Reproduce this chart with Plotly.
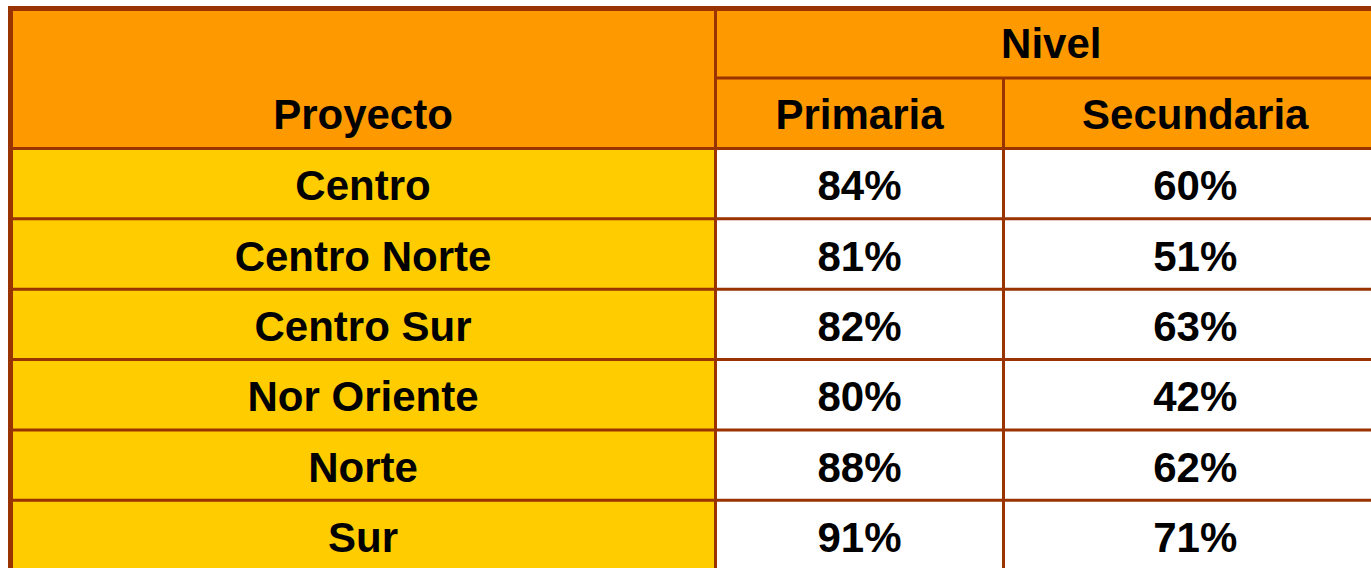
import numpy as np
import plotly.graph_objects as go

# ---- data ----
proyectos = ["Centro", "Centro Norte", "Centro Sur", "Nor Oriente", "Norte", "Sur"]
primaria = [84, 81, 82, 80, 88, 91]
secundaria = [60, 51, 63, 42, 62, 71]
header_group = "Nivel"
header_first = "Proyecto"
niveles = ["Primaria", "Secundaria"]

# ---- layout geometry (pixel units of the page) ----
W, H = 1371, 568
LEFT = 10.5
COL_W = [705, 288, 383.5]
TOP = 8.5
HEAD_H = [69.5, 70.5]
ROW_H = 70.35

ORANGE = "#FF9900"
YELLOW = "#FFCC00"
BORDER = "#993300"
FONT = "Liberation Sans"
FS = 42

x_edges = LEFT + np.concatenate([[0], np.cumsum(COL_W)])
head_edges = TOP + np.concatenate([[0], np.cumsum(HEAD_H)])
body_top = head_edges[-1]
n = len(proyectos)
row_edges = body_top + ROW_H * np.arange(n + 1)
x_cent = (x_edges[:-1] + x_edges[1:]) / 2
row_cent = (row_edges[:-1] + row_edges[1:]) / 2
TXT_OFF = 6
HEAD_OFF = 5

shapes = []
def rect(x0, x1, y0, y1, color):
    shapes.append(dict(type="rect", xref="x", yref="y", x0=x0, x1=x1, y0=y0, y1=y1,
                       fillcolor=color, line=dict(width=0), layer="below"))
def line(x0, x1, y0, y1, w):
    shapes.append(dict(type="line", xref="x", yref="y", x0=x0, x1=x1, y0=y0, y1=y1,
                       line=dict(color=BORDER, width=w), layer="above"))

# fills
rect(x_edges[0], x_edges[-1], head_edges[0], head_edges[-1], ORANGE)
rect(x_edges[0], x_edges[1], row_edges[0], row_edges[-1], YELLOW)
rect(x_edges[1], x_edges[-1], row_edges[0], row_edges[-1], "white")

# inner lines
line(x_edges[1], x_edges[-1], head_edges[1], head_edges[1], 3)
for y in row_edges:
    line(x_edges[0], x_edges[-1], y, y, 3)
line(x_edges[1], x_edges[1], head_edges[0], row_edges[-1], 3)
line(x_edges[2], x_edges[2], head_edges[1], row_edges[-1], 3)
# outer border
line(x_edges[0], x_edges[0], head_edges[0] - 2.5, row_edges[-1], 5)
line(x_edges[0] - 2.5, x_edges[-1], head_edges[0], head_edges[0], 5)

fig = go.Figure()

def txt(xs, ys, labels):
    fig.add_trace(go.Scatter(x=xs, y=ys, text=labels, mode="text",
                             textposition="middle center",
                             textfont=dict(family=FONT, size=FS, color="black", weight="bold"),
                             hoverinfo="skip", showlegend=False, cliponaxis=False))

# header texts
txt([(x_edges[1] + x_edges[-1]) / 2], [(head_edges[0] + head_edges[1]) / 2 + HEAD_OFF - 1], [header_group])
txt([x_cent[0], x_cent[1], x_cent[2]],
    [(head_edges[1] + head_edges[2]) / 2 + HEAD_OFF] * 3, [header_first] + niveles)
# body
txt([x_cent[0]] * n, list(row_cent + TXT_OFF), proyectos)
txt([x_cent[1]] * n, list(row_cent + TXT_OFF), [f"{v}%" for v in primaria])
txt([x_cent[2]] * n, list(row_cent + TXT_OFF), [f"{v}%" for v in secundaria])

fig.update_layout(
    width=W, height=H, margin=dict(l=0, r=0, t=0, b=0),
    paper_bgcolor="white", plot_bgcolor="white",
    xaxis=dict(range=[0, W], visible=False, fixedrange=True),
    yaxis=dict(range=[H, 0], visible=False, fixedrange=True),
    shapes=shapes,
)
fig.write_html(
    "out.html",
    config={"displayModeBar": False},
    post_script="document.body.style.margin='0';document.body.style.overflow='hidden';",
)
